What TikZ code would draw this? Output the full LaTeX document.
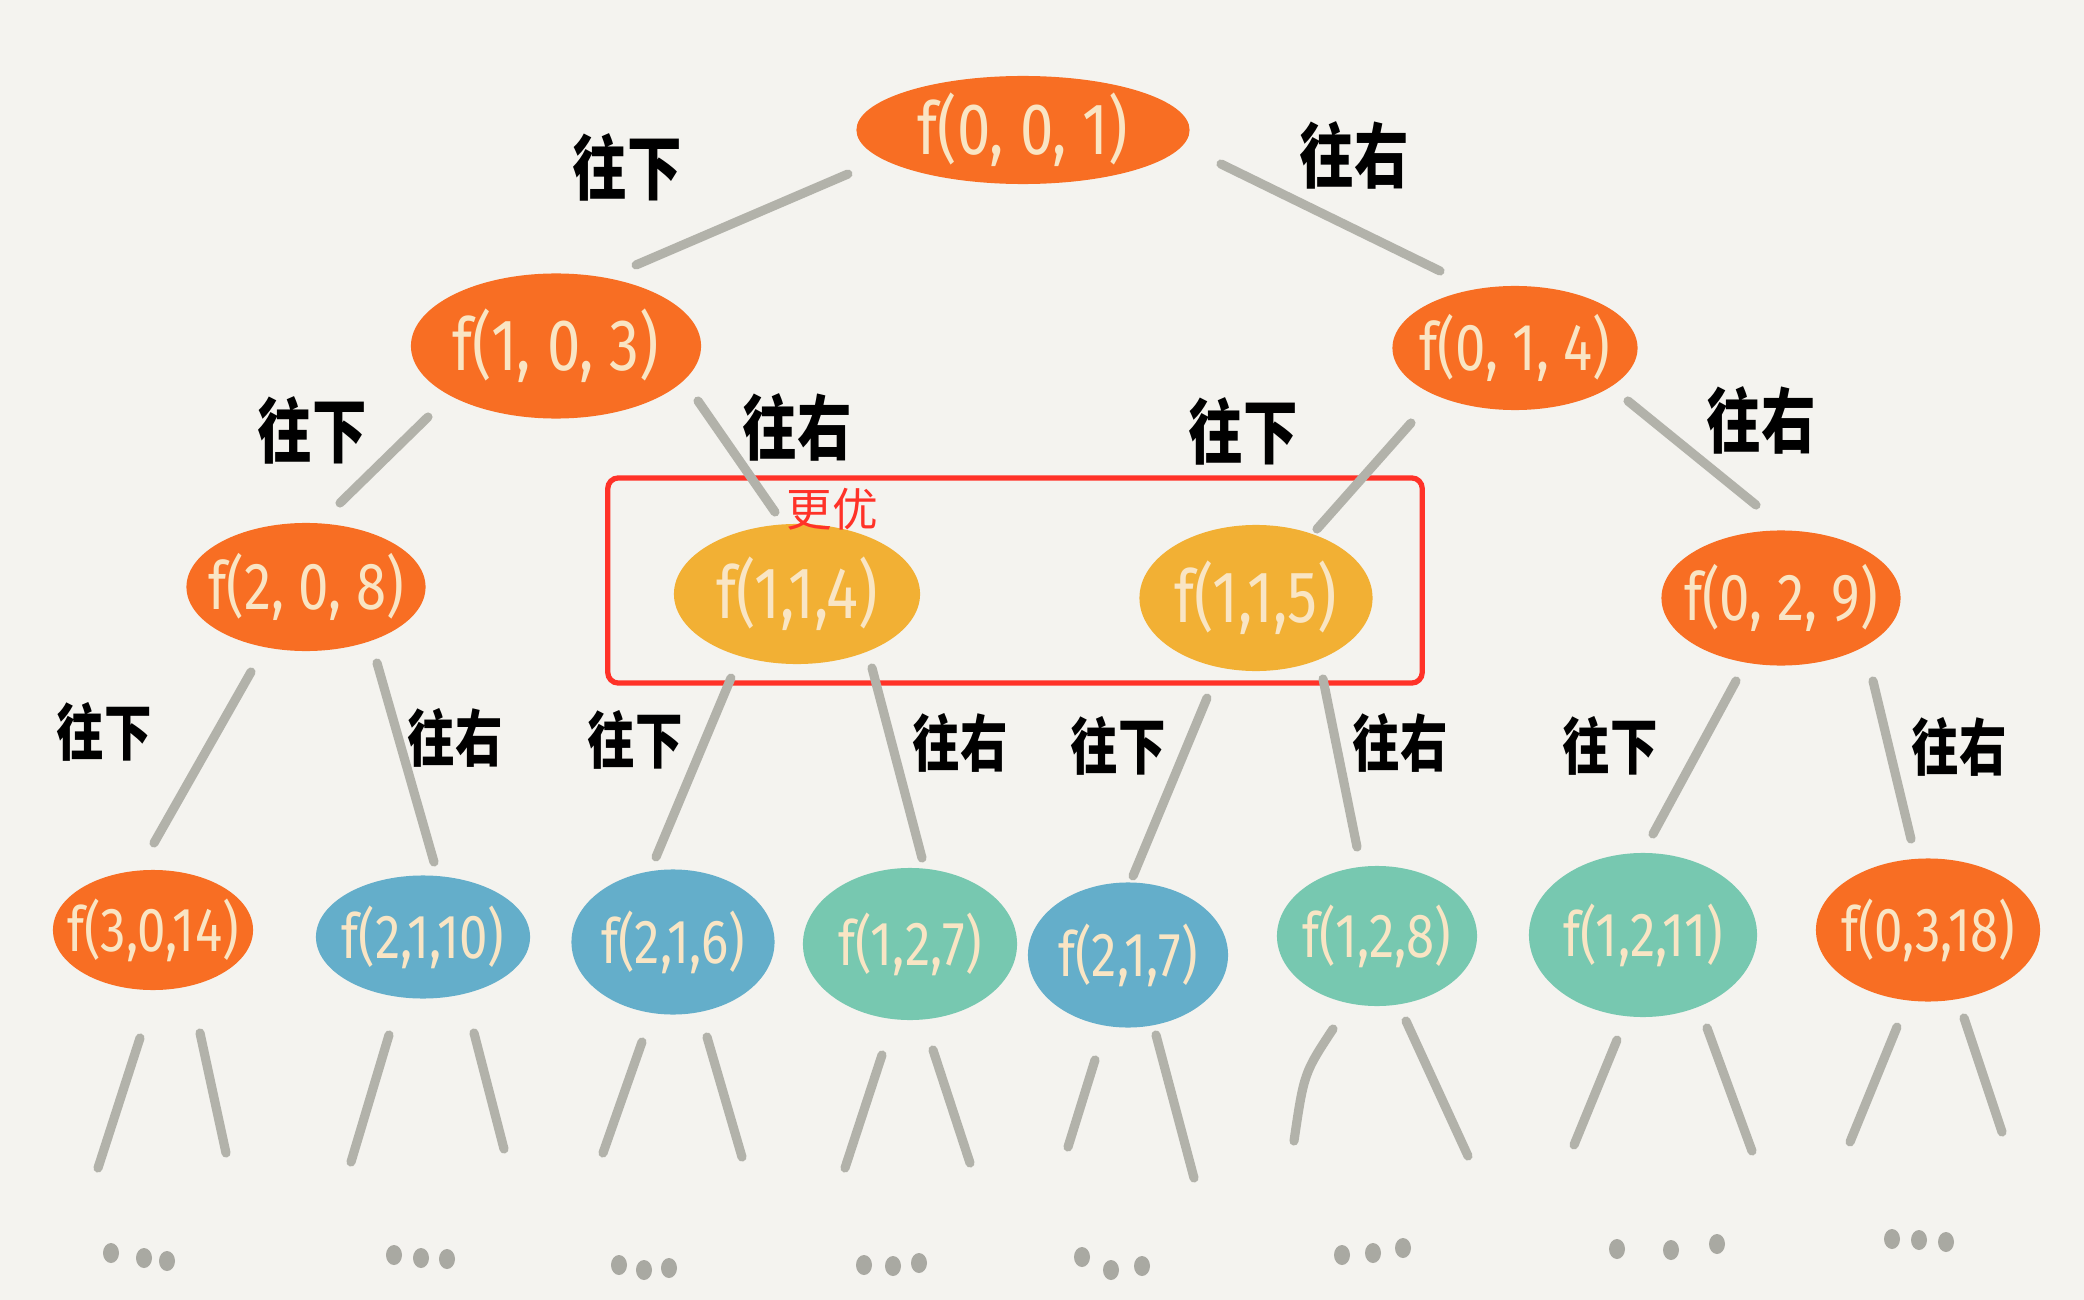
\documentclass[tikz,border=0pt]{standalone}
\usepackage{graphicx}
\usepackage{fontspec}
\setmainfont{Fira Sans}
\newfontfamily\cjk{Noto Sans CJK SC}
\usetikzlibrary{shapes.geometric,calc}
\definecolor{bgc}{HTML}{F4F3EF}
\definecolor{orng}{HTML}{F86E23}
\definecolor{yelw}{HTML}{F2B034}
\definecolor{blu}{HTML}{64AECA}
\definecolor{tea}{HTML}{77C8B0}
\definecolor{txtc}{HTML}{F9E5C4}
\definecolor{linec}{HTML}{B2B2AA}
\definecolor{dotc}{HTML}{A9A9A2}
\definecolor{redc}{HTML}{FF3228}
\newcommand{\tx}[1]{\makebox[0pt]{\scalebox{1}[1.22]{#1}}}
\newcommand{\lb}[1]{\scalebox{1}[1.3]{#1}}
\tikzset{
  fn/.style={ellipse, inner sep=0pt, text=txtc, font=\fontsize{17}{20}\selectfont},
  fm/.style={fn, font=\fontsize{15.5}{18}\selectfont},
  fs/.style={fn, font=\fontsize{14.5}{18}\selectfont},
  edge/.style={line width=2.6pt, draw=linec, line cap=round},
  lbl/.style={inner sep=0pt, text=black, font=\cjk\bfseries\fontsize{15.5}{18}\selectfont},
  lbs/.style={lbl, font=\cjk\bfseries\fontsize{13.5}{16}\selectfont},
  dotm/.style={fill=dotc},
}
\begin{document}
\begin{tikzpicture}[x=0.01cm, y=-0.01cm]
\fill[bgc] (0,0) rectangle (2084,1300);
\useasboundingbox (0,0) rectangle (2084,1300);

% nodes
\node[fn, fill=orng, minimum width=3.33cm, minimum height=1.08cm] (root) at (1023,130) {\tx{f(0, 0, 1)}};
\node[fn, fill=orng, minimum width=2.90cm, minimum height=1.45cm] (n103) at (556,346) {\tx{f(1, 0, 3)}};
\node[fm, fill=orng, minimum width=2.45cm, minimum height=1.24cm] (n014) at (1515,348) {\tx{f(0, 1, 4)}};
\node[fm, fill=orng, minimum width=2.39cm, minimum height=1.28cm] (n208) at (306,587) {\tx{f(2, 0, 8)}};
\node[fn, fill=yelw, minimum width=2.46cm, minimum height=1.40cm] (n114) at (797,594) {\tx{f(1,1,4)}};
\node[fn, fill=yelw, minimum width=2.33cm, minimum height=1.46cm] (n115) at (1256,598) {\tx{f(1,1,5)}};
\node[fm, fill=orng, minimum width=2.39cm, minimum height=1.35cm] (n029) at (1781,598) {\tx{f(0, 2, 9)}};
\node[fs, fill=orng, minimum width=2.00cm, minimum height=1.20cm] (n3014) at (153,930) {\tx{f(3,0,14)}};
\node[fs, fill=blu, minimum width=2.14cm, minimum height=1.23cm] (n2110) at (423,937) {\tx{f(2,1,10)}};
\node[fs, fill=blu, minimum width=2.03cm, minimum height=1.45cm] (n216) at (673,942) {\tx{f(2,1,6)}};
\node[fs, fill=tea, minimum width=2.14cm, minimum height=1.52cm] (n127) at (910,944) {\tx{f(1,2,7)}};
\node[fs, fill=blu, minimum width=2.00cm, minimum height=1.45cm] (n217) at (1128,955) {\tx{f(2,1,7)}};
\node[fs, fill=tea, minimum width=2.00cm, minimum height=1.40cm] (n128) at (1377,936) {\tx{f(1,2,8)}};
\node[fs, fill=tea, minimum width=2.28cm, minimum height=1.64cm] (n1211) at (1643,935) {\tx{f(1,2,11)}};
\node[fs, fill=orng, minimum width=2.24cm, minimum height=1.43cm] (n0318) at (1928,930) {\tx{f(0,3,18)}};

% highlight box
\node[draw=redc, line width=1.5pt, rounded corners=3pt, minimum width=8.14cm, minimum height=2.05cm, inner sep=0pt] (box) at (1015,580.5) {};
\node[inner sep=0pt, text=redc, font=\cjk\fontsize{13}{16}\selectfont] (better) at (832,509) {更优};

% edges
\draw[edge] ($(root.center)+(-175,44)$) -- ($(n103.center)+(80,-81)$);
\draw[edge] ($(root.center)+(198,34)$) -- ($(n014.center)+(-75,-77)$);
\draw[edge] ($(n103.center)+(-128,71)$) -- ($(n208.center)+(34,-84)$);
\draw[edge] ($(n103.center)+(142,55)$) -- ($(n114.center)+(-22,-82)$);
\draw[edge] ($(n014.center)+(-104,75)$) -- ($(n115.center)+(61,-69)$);
\draw[edge] ($(n014.center)+(113,53)$) -- ($(n029.center)+(-25,-93)$);
\draw[edge] ($(n208.center)+(-55,85)$) -- ($(n3014.center)+(1,-87)$);
\draw[edge] ($(n208.center)+(71,76)$) -- ($(n2110.center)+(11,-75)$);
\draw[edge] ($(n114.center)+(-66,84)$) -- ($(n216.center)+(-17,-85)$);
\draw[edge] ($(n114.center)+(75,74)$) -- ($(n127.center)+(12,-86)$);
\draw[edge] ($(n115.center)+(-49,100)$) -- ($(n217.center)+(5,-79)$);
\draw[edge] ($(n115.center)+(67,81)$) -- ($(n128.center)+(-20,-89)$);
\draw[edge] ($(n029.center)+(-45,83)$) -- ($(n1211.center)+(10,-101)$);
\draw[edge] ($(n029.center)+(92,83)$) -- ($(n0318.center)+(-17,-91)$);

% edge labels
\node[lbl] (l1) at (627,167) {\lb{往下}};
\node[lbl] (l2) at (1354,155) {\lb{往右}};
\node[lbl] (l3) at (312,430) {\lb{往下}};
\node[lbl] (l4) at (797,427) {\lb{往右}};
\node[lbl] (l5) at (1243,431) {\lb{往下}};
\node[lbl] (l6) at (1761,420) {\lb{往右}};
\node[lbs] (l7) at (104,732) {\lb{往下}};
\node[lbs] (l8) at (455,738) {\lb{往右}};
\node[lbs] (l9) at (635,740) {\lb{往下}};
\node[lbs] (l10) at (960,743) {\lb{往右}};
\node[lbs] (l11) at (1118,746) {\lb{往下}};
\node[lbs] (l12) at (1400,743) {\lb{往右}};
\node[lbs] (l13) at (1610,746) {\lb{往下}};
\node[lbs] (l14) at (1959,747) {\lb{往右}};

% stubs below the last row
\draw[edge] ($(n3014.center)+(-13,108)$) -- ($(n3014.center)+(-55,238)$);
\draw[edge] ($(n3014.center)+(47,103)$) -- ($(n3014.center)+(73,223)$);
\draw[edge] ($(n2110.center)+(-34,98)$) -- ($(n2110.center)+(-72,225)$);
\draw[edge] ($(n2110.center)+(51,96)$) -- ($(n2110.center)+(81,212)$);
\draw[edge] ($(n216.center)+(-31,100)$) -- ($(n216.center)+(-70,211)$);
\draw[edge] ($(n216.center)+(34,95)$) -- ($(n216.center)+(69,215)$);
\draw[edge] ($(n127.center)+(-28,111)$) -- ($(n127.center)+(-65,224)$);
\draw[edge] ($(n127.center)+(23,106)$) -- ($(n127.center)+(60,219)$);
\draw[edge] ($(n217.center)+(-33,105)$) -- ($(n217.center)+(-60,192)$);
\draw[edge] ($(n217.center)+(28,80)$) -- ($(n217.center)+(66,223)$);
\draw[edge] ($(n128.center)+(-44,93)$) .. controls ($(n128.center)+(-73,137)$) .. ($(n128.center)+(-83,205)$);
\draw[edge] ($(n128.center)+(29,85)$) -- ($(n128.center)+(91,220)$);
\draw[edge] ($(n1211.center)+(-26,105)$) -- ($(n1211.center)+(-69,210)$);
\draw[edge] ($(n1211.center)+(64,93)$) -- ($(n1211.center)+(109,216)$);
\draw[edge] ($(n0318.center)+(-31,97)$) -- ($(n0318.center)+(-78,212)$);
\draw[edge] ($(n0318.center)+(36,88)$) -- ($(n0318.center)+(74,202)$);

% ellipsis dots
\foreach \x/\y in {111/1253,144/1258,167/1261, 394/1255,421/1258,447/1259,
  619/1265,644/1270,669/1268, 864/1265,893/1266,919/1263,
  1082/1257,1111/1270,1142/1266, 1342/1255,1373/1253,1403/1248,
  1617/1249,1671/1250,1717/1244, 1892/1239,1919/1240,1946/1242}
  \fill[dotm] (\x,\y) ellipse [x radius=8, y radius=10];
\end{tikzpicture}
\end{document}
